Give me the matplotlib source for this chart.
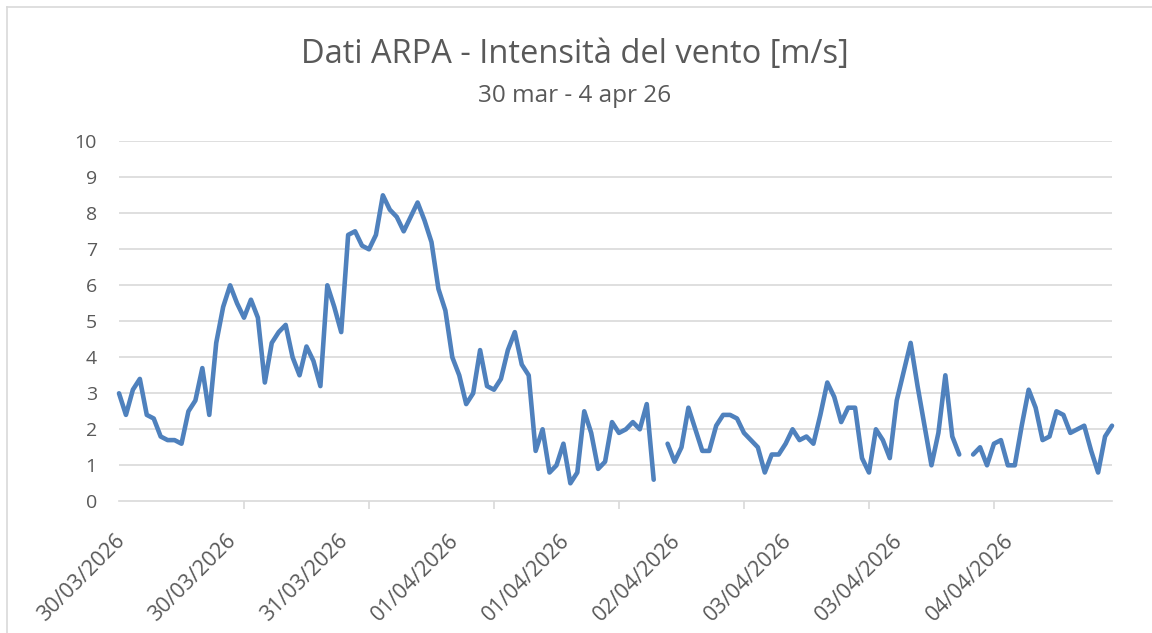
import numpy as np
import matplotlib
matplotlib.use("Agg")
import matplotlib.pyplot as plt
import matplotlib.transforms as mtransforms

# hourly wind speed, 30/03 00:00 -> 04/04 23:00 (None = missing reading)
wind = [
    3.0, 2.4, 3.1, 3.4, 2.4, 2.3, 1.8, 1.7, 1.7, 1.6, 2.5, 2.8,
    3.7, 2.4, 4.4, 5.4, 6.0, 5.5, 5.1, 5.6, 5.1, 3.3, 4.4, 4.7,
    4.9, 4.0, 3.5, 4.3, 3.9, 3.2, 6.0, 5.4, 4.7, 7.4, 7.5, 7.1,
    7.0, 7.4, 8.5, 8.1, 7.9, 7.5, 7.9, 8.3, 7.8, 7.2, 5.9, 5.3,
    4.0, 3.5, 2.7, 3.0, 4.2, 3.2, 3.1, 3.4, 4.2, 4.7, 3.8, 3.5,
    1.4, 2.0, 0.8, 1.0, 1.6, 0.5, 0.8, 2.5, 1.9, 0.9, 1.1, 2.2,
    1.9, 2.0, 2.2, 2.0, 2.7, 0.6, None, 1.6, 1.1, 1.5, 2.6, 2.0,
    1.4, 1.4, 2.1, 2.4, 2.4, 2.3, 1.9, 1.7, 1.5, 0.8, 1.3, 1.3,
    1.6, 2.0, 1.7, 1.8, 1.6, 2.4, 3.3, 2.9, 2.2, 2.6, 2.6, 1.2,
    0.8, 2.0, 1.7, 1.2, 2.8, 3.6, 4.4, 3.2, 2.1, 1.0, 1.9, 3.5,
    1.8, 1.3, None, 1.3, 1.5, 1.0, 1.6, 1.7, 1.0, 1.0, 2.1, 3.1,
    2.6, 1.7, 1.8, 2.5, 2.4, 1.9, 2.0, 2.1, 1.4, 0.8, 1.8, 2.1,
]

label_pos = [0, 16, 32, 48, 64, 80, 96, 112, 128]
label_txt = ["30/03/2026", "30/03/2026", "31/03/2026", "01/04/2026", "01/04/2026",
             "02/04/2026", "03/04/2026", "03/04/2026", "04/04/2026"]

title = "Dati ARPA - Intensità del vento [m/s]"
subtitle = "30 mar - 4 apr 26"

grey_txt = "#595959"
grid_col = "#D9D9D9"
plt.rcParams["font.family"] = ["Open Sans", "DejaVu Sans"]

W, H = 1152, 633
fig = plt.figure(figsize=(W / 100, H / 100), dpi=100)

# chart frame (only top and left edges are visible in the crop)
fig.add_artist(plt.Line2D([7 / W, 1], [1 - 7 / H, 1 - 7 / H], color=grid_col, lw=1.2))
fig.add_artist(plt.Line2D([7 / W, 7 / W], [0, 1 - 7 / H], color=grid_col, lw=1.2))

left, right, top, bottom = 119, 1112, 141.3, 501.3
ax = fig.add_axes([left / W, 1 - bottom / H, (right - left) / W, (bottom - top) / H])

y = np.array([np.nan if v is None else v for v in wind], dtype=float)
x = np.arange(len(y))
ax.plot(x, y, color="#4F81BD", lw=3.3, solid_joinstyle="round", solid_capstyle="round",
        zorder=3, clip_on=False)

ax.set_xlim(0, len(y) - 1)
ax.set_ylim(0, 10)

ax.set_yticks(range(0, 11))
for v in range(1, 11):
    ax.axhline(v, color=grid_col, lw=1.2, zorder=1)
ax.tick_params(axis="y", length=0, pad=16, labelsize=14, labelcolor=grey_txt)

for s in ["top", "right", "left"]:
    ax.spines[s].set_visible(False)
ax.spines["bottom"].set_color(grid_col)
ax.spines["bottom"].set_linewidth(1.2)

# tick marks every 18 hours, labels every 16 hours (as in the source chart)
ax.set_xticks(range(0, len(y), 18), minor=True)
ax.tick_params(axis="x", which="minor", length=6, width=1.2, color=grid_col)
ax.set_xticks(label_pos)
ax.set_xticklabels(label_txt)
ax.tick_params(axis="x", which="major", length=0, pad=26, labelsize=15.5, labelcolor=grey_txt)
shift = mtransforms.ScaledTranslation(3 / 100, 0, fig.dpi_scale_trans)
for lab in ax.get_xticklabels():
    lab.set_rotation(45)
    lab.set_ha("right")
    lab.set_va("center")
    lab.set_rotation_mode("anchor")
    lab.set_transform(lab.get_transform() + shift)

fig.text(575 / W, 1 - 55 / H, title, ha="center", va="center",
         fontsize=23.5, color=grey_txt)
fig.text(575 / W, 1 - 96 / H, subtitle, ha="center", va="center",
         fontsize=17.5, color=grey_txt)

fig.savefig("out.png", dpi=100)
